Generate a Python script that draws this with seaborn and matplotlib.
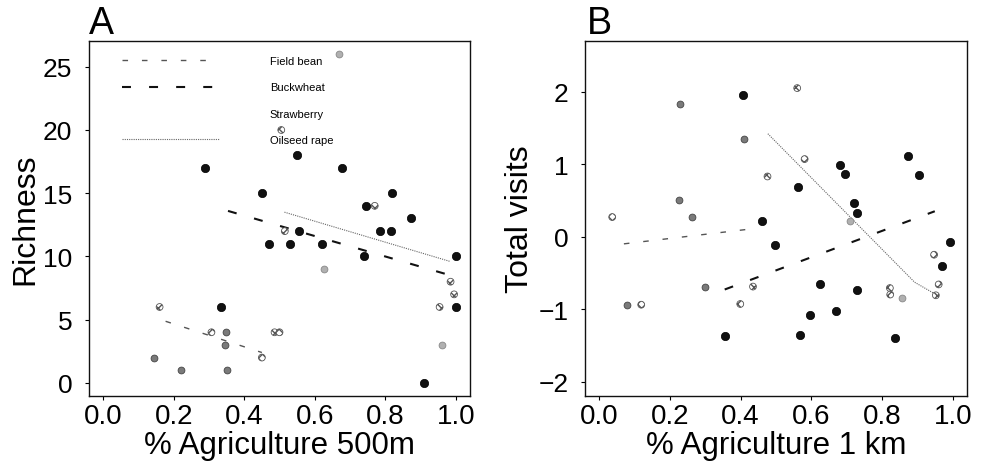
import numpy as np
import matplotlib
matplotlib.use("Agg")
import matplotlib.pyplot as plt
from matplotlib.lines import Line2D
import seaborn as sns

# panel A: richness vs % agriculture 500m
a_buck_x = [0.29, 0.335, 0.45, 0.47, 0.53, 0.55, 0.556, 0.62, 0.676, 0.74, 0.745, 0.784, 0.815, 0.818, 0.874, 0.91, 1.0, 1.0]
a_buck_y = [17, 6, 15, 11, 11, 18, 12, 11, 17, 10, 14, 12, 12, 15, 13, 0, 10, 6]
a_bean_x = [0.144, 0.222, 0.35, 0.346, 0.349]
a_bean_y = [2, 1, 1, 3, 4]
a_rape_x = [0.16, 0.307, 0.45, 0.486, 0.50, 0.505, 0.515, 0.77, 0.985, 0.995, 0.954]
a_rape_y = [6, 4, 2, 4, 4, 20, 12, 14, 8, 7, 6]
a_straw_x = [0.669, 0.627, 0.96]
a_straw_y = [26, 9, 3]

a_fit_bean_x = [0.177, 0.45]
a_fit_bean_y = [4.87, 2.4]
a_fit_buck_x = [0.354, 0.985]
a_fit_buck_y = [13.6, 8.5]
a_fit_rape_x = [0.514, 0.984]
a_fit_rape_y = [13.5, 9.6]

# panel B: total visits vs % agriculture 1 km
b_buck_x = [0.408, 0.562, 0.68, 0.696, 0.721, 0.73, 0.872, 0.904, 0.461, 0.497, 0.992, 0.968, 0.624, 0.73, 0.595, 0.671, 0.355, 0.569, 0.836]
b_buck_y = [1.95, 0.69, 0.99, 0.87, 0.46, 0.32, 1.11, 0.855, 0.22, -0.11, -0.08, -0.40, -0.66, -0.735, -1.076, -1.03, -1.365, -1.356, -1.40]
b_bean_x = [0.229, 0.226, 0.263, 0.41, 0.298, 0.079]
b_bean_y = [1.83, 0.51, 0.27, 1.35, -0.69, -0.94]
b_rape_x = [0.119, 0.399, 0.435, 0.476, 0.581, 0.947, 0.96, 0.952, 0.822, 0.823, 0.56, 0.037]
b_rape_y = [-0.94, -0.93, -0.69, 0.83, 1.07, -0.25, -0.66, -0.81, -0.71, -0.80, 2.05, 0.27]
b_straw_x = [0.71, 0.855]
b_straw_y = [0.22, -0.85]

b_fit_bean_x = [0.07, 0.43]
b_fit_bean_y = [-0.10, 0.106]
b_fit_buck_x = [0.355, 0.949]
b_fit_buck_y = [-0.73, 0.35]
b_fit_rape_x = [0.477, 0.892, 0.949]
b_fit_rape_y = [1.42, -0.63, -0.79]

crops = ["Field bean", "Buckwheat", "Strawberry", "Oilseed rape"]

sns.set_style("ticks")
plt.rcParams["font.family"] = ["Liberation Sans", "DejaVu Sans"]
plt.rcParams["text.color"] = "black"
plt.rcParams["axes.labelcolor"] = "black"
plt.rcParams["xtick.color"] = "black"
plt.rcParams["ytick.color"] = "black"

fig = plt.figure(figsize=(9.84, 4.64), dpi=100)
axA = fig.add_axes([0.0905, 0.1444, 0.3871, 0.7651])
axB = fig.add_axes([0.5945, 0.1444, 0.3882, 0.7651])

bean_ls = dict(color="#555555", lw=1.0, dashes=(4, 10))
buck_ls = dict(color="#111111", lw=1.5, dashes=(4.3, 8.7))
rape_ls = dict(color="#666666", lw=0.8, dashes=(1, 1))


def draw(ax, buck, bean, rape, straw, fits):
    sns.scatterplot(x=bean[0], y=bean[1], ax=ax, color="#7a7a7a", s=24,
                    edgecolor="#444444", linewidth=0.6, zorder=3)
    sns.scatterplot(x=rape[0], y=rape[1], ax=ax, facecolor="white", s=24,
                    edgecolor="#555555", linewidth=0.6, hatch="xxxx", zorder=3)
    sns.scatterplot(x=straw[0], y=straw[1], ax=ax, color="#b0b0b0", s=24,
                    edgecolor="#888888", linewidth=0.6, zorder=3)
    sns.scatterplot(x=buck[0], y=buck[1], ax=ax, color="#111111", s=36,
                    edgecolor="#000000", linewidth=0.5, zorder=4)
    ax.plot(fits[0][0], fits[0][1], **bean_ls, zorder=2)
    ax.plot(fits[1][0], fits[1][1], **buck_ls, zorder=2)
    ax.plot(fits[2][0], fits[2][1], **rape_ls, zorder=2)
    for sp in ax.spines.values():
        sp.set_visible(True)
        sp.set_linewidth(1.0)
        sp.set_color("#111111")
    ax.tick_params(axis="both", length=3, width=0.8, direction="out")
    ax.tick_params(axis="x", labelsize=20, pad=2)
    ax.tick_params(axis="y", labelsize=19, pad=9)
    ax.set_xlim(-0.04, 1.04)
    ax.set_xticks([0.0, 0.2, 0.4, 0.6, 0.8, 1.0])
    ax.set_xticklabels(["0.0", "0.2", "0.4", "0.6", "0.8", "1.0"])


draw(axA, (a_buck_x, a_buck_y), (a_bean_x, a_bean_y), (a_rape_x, a_rape_y),
     (a_straw_x, a_straw_y),
     [(a_fit_bean_x, a_fit_bean_y), (a_fit_buck_x, a_fit_buck_y), (a_fit_rape_x, a_fit_rape_y)])
draw(axB, (b_buck_x, b_buck_y), (b_bean_x, b_bean_y), (b_rape_x, b_rape_y),
     (b_straw_x, b_straw_y),
     [(b_fit_bean_x, b_fit_bean_y), (b_fit_buck_x, b_fit_buck_y), (b_fit_rape_x, b_fit_rape_y)])

axA.set_ylim(-1.04, 27.04)
axA.set_yticks([0, 5, 10, 15, 20, 25])
axB.set_ylim(-2.2, 2.7)
axB.set_yticks([-2, -1, 0, 1, 2])

axA.set_xlabel("% Agriculture 500m", fontsize=22.5, labelpad=1)
axA.set_ylabel("Richness", fontsize=23, labelpad=2)
axB.set_xlabel("% Agriculture 1 km", fontsize=22.5, labelpad=1)
axB.set_ylabel("Total visits", fontsize=23, labelpad=2)

axA.text(0.0, 1.0, "A", transform=axA.transAxes, fontsize=27, ha="left", va="bottom")
axB.text(0.005, 1.0, "B", transform=axB.transAxes, fontsize=27, ha="left", va="bottom")

handles = [Line2D([], [], **bean_ls),
           Line2D([], [], **buck_ls),
           Line2D([], [], color="white", lw=1),
           Line2D([], [], **rape_ls)]
axA.legend(handles, crops, loc="upper left", bbox_to_anchor=(0.06, 0.985),
           frameon=False, fontsize=8, handlelength=8.7, handletextpad=4.6,
           labelspacing=1.45)

fig.savefig("out.png", dpi=100)
